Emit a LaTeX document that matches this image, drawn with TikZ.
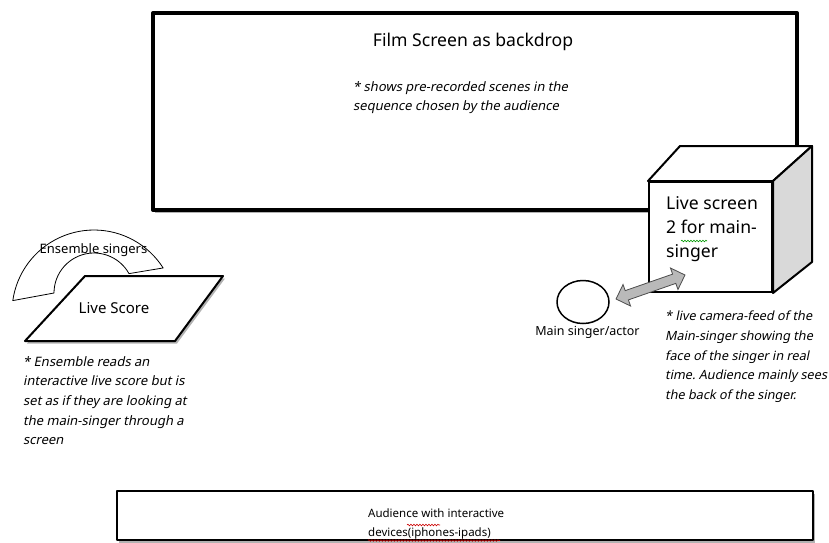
\documentclass[tikz,border=0pt]{standalone}
\usepackage{fontspec}
\setmainfont{Noto Sans}
\newfontfamily\oblfont[FakeSlant=0.2]{Noto Sans}
\usetikzlibrary{shapes.arrows,shapes.geometric,shadows,decorations.pathmorphing}
\frenchspacing
\begin{document}
\begin{tikzpicture}[x=1pt,y=1pt,
  shade/.style={drop shadow={shadow xshift=2pt,shadow yshift=-2.5pt,opacity=0.3,fill=black}},
  note/.style={font=\oblfont\fontsize{13}{19.7}\selectfont, align=left, anchor=north west, inner sep=0},
  lbl/.style={inner sep=0},
  boxline/.style={draw=black, fill=white, line join=round},
  squiggle/.style={decorate, decoration={snake, amplitude=0.8pt, segment length=3pt}, line width=0.6pt}
]
\useasboundingbox (0,0) rectangle (829,-542);

% film screen
\node[boxline, line width=4, minimum width=644, minimum height=197, inner sep=0, shade] (film) at (475,-111.5) {};
\node[lbl, font=\fontsize{17.6}{20}\selectfont] (filmtitle) at (473,-42) {Film Screen as backdrop};
\node[note] (filmnote) at (353,-81) {* shows pre-recorded scenes in the\\sequence chosen by the audience};

% cube: live screen 2
\node[boxline, line width=2, minimum width=123, minimum height=110, inner sep=0] (live) at (710.5,-237) {};
\coordinate (backtl) at (680,-146);
\coordinate (backtr) at (812,-146);
\coordinate (backbr) at (812,-262);
\draw[boxline, line width=2] (live.north west) -- (backtl) -- (backtr) -- (live.north east) -- cycle;
\draw[boxline, line width=2, fill=gray!30] (live.north east) -- (backtr) -- (backbr) -- (live.south east) -- cycle;
\node[lbl, font=\fontsize{17.6}{24}\selectfont, align=left, anchor=north west] (livetext) at (666,-196) {Live screen\\2 for main-\\singer};
\draw[squiggle, green!60!black] (681,-241) -- (707,-241);

% main singer
\node[draw, ellipse, line width=1.5, minimum width=52, minimum height=43, inner sep=0, fill=white] (singer) at (583,-302) {};
\node[lbl, font=\fontsize{12.5}{15}\selectfont] (singerlbl) at (587.5,-332) {Main singer/actor};

% double arrow between singer and live screen
\node[double arrow, draw=gray!60!black, fill=gray!55, line width=0.8, minimum height=73, inner xsep=0, inner ysep=4.5, double arrow head extend=6.5, rotate=19.2] (feed) at (650.5,-287) {};

\node[note, font=\oblfont\fontsize{12.7}{19.6}\selectfont] (livenote) at (665,-311) {* live camera-feed of the\\Main-singer showing the\\face of the singer in real\\time. Audience mainly sees\\the back of the singer.};

% ensemble singers (block arc)
\draw[line width=0.8, fill=white, line join=round]
  plot[domain=172:32.5, samples=40, variable=\t] ({94+82*cos(\t)},{-312+82*sin(\t)})
  -- plot[domain=29:180, samples=30, variable=\t] ({94+40*cos(\t)},{-293+40*sin(\t)})
  -- cycle;
\node[lbl, font=\fontsize{13}{15}\selectfont] (enslbl) at (93.5,-250) {Ensemble singers};

% live score parallelogram
\draw[boxline, line width=2, shade] (85,-276) -- (223,-276) -- (175,-341) -- (25,-341) -- cycle;
\node[lbl, font=\fontsize{15}{17}\selectfont] (score) at (114,-308) {Live Score};
\node[note] (scorenote) at (23,-356) {* Ensemble reads an\\interactive live score but is\\set as if they are looking at\\the main-singer through a\\screen};

% audience
\node[boxline, line width=2.5, minimum width=696, minimum height=49, inner sep=0, shade] (aud) at (465,-515.5) {};
\node[lbl, font=\fontsize{11.5}{19}\selectfont, align=left, anchor=north west] (audtext) at (368,-509) {Audience with interactive\\devices(iphones-ipads)};
\draw[squiggle, red!80!black] (407,-525) -- (440,-525);
\draw[squiggle, red!80!black] (368,-540.5) -- (500,-540.5);
\end{tikzpicture}
\end{document}
